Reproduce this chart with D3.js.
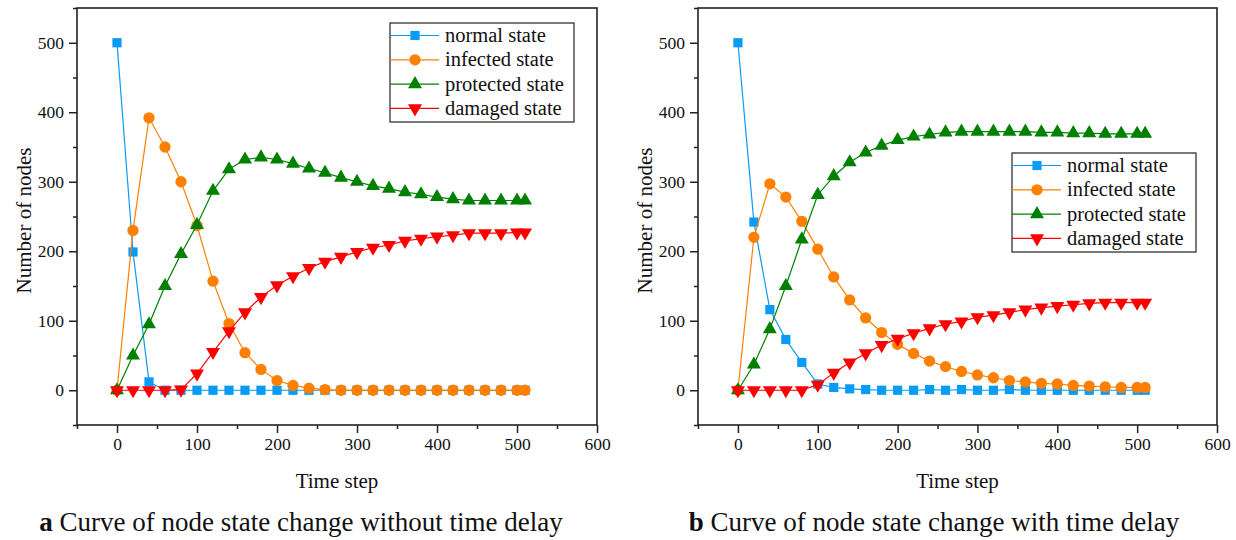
<!DOCTYPE html>
<html>
<head>
<meta charset="utf-8">
<script src="https://cdn.jsdelivr.net/npm/d3@7"></script>
<style>
  body { margin: 0; background: #fff; }
  svg { display: block; font-family: "Liberation Serif", "Times New Roman", serif; }
</style>
</head>
<body>
<div id="chart"></div>
<script>
// time steps shared by both panels
const timeSteps = [0, 20, 40, 60, 80, 100, 120, 140, 160, 180, 200, 220, 240, 260,
  280, 300, 320, 340, 360, 380, 400, 420, 440, 460, 480, 500, 510];

// panel a: without time delay
const normalA = [500, 199, 12, 0, 0, 0, 0, 0, 0, 0, 0, 0, 0, 0,
  0, 0, 0, 0, 0, 0, 0, 0, 0, 0, 0, 0, 0];
const infectedA = [0, 230, 392, 350, 300, 237, 157, 96, 54, 30, 14, 7, 3, 1,
  0, 0, 0, 0, 0, 0, 0, 0, 0, 0, 0, 0, 0];
const protectedA = [0, 50, 95, 150, 196, 238, 287, 318, 332, 335, 332, 326, 319, 313,
  306, 300, 294, 290, 285, 282, 278, 275, 273, 273, 273, 273, 273];
const damagedA = [0, 0, 0, 0, 1, 24, 55, 85, 112, 134, 151, 164, 176, 185,
  192, 199, 205, 209, 215, 218, 221, 223, 226, 226, 226, 227, 227];

// panel b: with time delay
const normalB = [500, 242, 116, 73, 40, 9, 4, 2, 1, 0, 0, 0, 1, 0,
  1, 0, 0, 1, 0, 0, 0, 0, 0, 0, 0, 0, 0];
const infectedB = [0, 220, 297, 278, 243, 203, 163, 130, 104, 83, 66, 53, 42, 34,
  27, 22, 18, 14, 12, 10, 9, 7, 6, 5, 4, 4, 4];
const protectedB = [0, 37, 88, 150, 217, 281, 308, 328, 342, 352, 360, 365, 368, 371,
  372, 372, 372, 372, 372, 371, 371, 370, 370, 369, 369, 369, 369];
const damagedB = [0, 0, 0, 0, 0, 8, 25, 40, 53, 65, 74, 82, 89, 95,
  99, 105, 108, 112, 116, 119, 121, 123, 125, 126, 126, 126, 126];

const seriesNames = ["normal state", "infected state", "protected state", "damaged state"];
const seriesColors = ["#0a9bf5", "#ff8000", "#008000", "#ff0000"];
const seriesSymbols = [d3.symbolSquare, d3.symbolCircle, d3.symbolTriangle, d3.symbolTriangle];
const symbolSizes = [85, 100, 85, 85];

const xMajor = [0, 100, 200, 300, 400, 500, 600];
const xMinor = [-50, 50, 150, 250, 350, 450, 550];
const yMajor = [0, 100, 200, 300, 400, 500];
const yMinor = [-50, 50, 150, 250, 350, 450, 550];

const width = 1236, height = 540;
const serif = "'Liberation Serif', 'Times New Roman', serif";

const svg = d3.select("#chart").append("svg")
  .attr("width", width)
  .attr("height", height)
  .attr("font-family", serif);

function drawPanel(cfg) {
  const x = d3.scaleLinear().domain([-50, 600]).range([cfg.left, cfg.right]);
  const y = d3.scaleLinear().domain([-50, 550]).range([cfg.bottom, cfg.top]);
  const g = svg.append("g");

  // minor ticks
  g.append("g")
    .attr("transform", `translate(0,${cfg.bottom})`)
    .call(d3.axisBottom(x).tickValues(xMinor).tickSize(4).tickFormat(""))
    .call(a => a.select(".domain").remove());
  g.append("g")
    .attr("transform", `translate(${cfg.left},0)`)
    .call(d3.axisLeft(y).tickValues(yMinor).tickSize(4).tickFormat(""))
    .call(a => a.select(".domain").remove());

  // major ticks with labels
  const xa = g.append("g")
    .attr("transform", `translate(0,${cfg.bottom})`)
    .call(d3.axisBottom(x).tickValues(xMajor).tickSize(8).tickPadding(5));
  xa.select(".domain").remove();
  const ya = g.append("g")
    .attr("transform", `translate(${cfg.left},0)`)
    .call(d3.axisLeft(y).tickValues(yMajor).tickSize(8).tickPadding(5));
  ya.select(".domain").remove();

  g.selectAll("g").attr("font-family", serif);
  g.selectAll(".tick line").attr("stroke", "#222").attr("stroke-width", 1.5);
  g.selectAll(".tick text")
    .attr("font-size", 17.5)
    .attr("fill", "#111");

  // box
  g.append("rect")
    .attr("x", cfg.left).attr("y", cfg.top)
    .attr("width", cfg.right - cfg.left)
    .attr("height", cfg.bottom - cfg.top)
    .attr("fill", "none")
    .attr("stroke", "#222")
    .attr("stroke-width", 1.6);

  const line = d3.line()
    .x((d, i) => x(timeSteps[i]))
    .y(d => y(d));

  cfg.series.forEach((vals, s) => {
    g.append("path")
      .datum(vals)
      .attr("d", line)
      .attr("fill", "none")
      .attr("stroke", seriesColors[s])
      .attr("stroke-width", 1.2);
    const sym = d3.symbol().type(seriesSymbols[s]).size(symbolSizes[s]);
    g.selectAll(null)
      .data(vals)
      .enter()
      .append("path")
      .attr("d", sym)
      .attr("transform", (d, i) => `translate(${x(timeSteps[i])},${y(d)})` + (s === 3 ? " rotate(180)" : ""))
      .attr("fill", seriesColors[s]);
  });

  // legend
  const lg = g.append("g").attr("transform", `translate(${cfg.legX},${cfg.legY})`);
  lg.append("rect")
    .attr("width", 184).attr("height", 99)
    .attr("fill", "#fff")
    .attr("stroke", "#222")
    .attr("stroke-width", 1.2);
  seriesNames.forEach((name, s) => {
    const ry = 12.5 + s * 24.3;
    lg.append("line")
      .attr("x1", 0).attr("x2", 49)
      .attr("y1", ry).attr("y2", ry)
      .attr("stroke", seriesColors[s])
      .attr("stroke-width", 1.2);
    lg.append("path")
      .attr("d", d3.symbol().type(seriesSymbols[s]).size(symbolSizes[s])())
      .attr("transform", `translate(25,${ry})` + (s === 3 ? " rotate(180)" : ""))
      .attr("fill", seriesColors[s]);
    lg.append("text")
      .attr("x", 55).attr("y", ry + 6.5)
      .attr("font-size", 20.5)
      .attr("fill", "#111")
      .text(name);
  });

  // axis titles
  const cx = (cfg.left + cfg.right) / 2;
  g.append("text")
    .attr("x", cx).attr("y", 488)
    .attr("text-anchor", "middle")
    .attr("font-size", 21)
    .attr("fill", "#111")
    .text("Time step");
  g.append("text")
    .attr("transform", `translate(${cfg.left - 46},${(cfg.top + cfg.bottom) / 2 + 4}) rotate(-90)`)
    .attr("text-anchor", "middle")
    .attr("font-size", 21)
    .attr("fill", "#111")
    .text("Number of nodes");

  // caption
  const cap = g.append("text")
    .attr("x", cfg.capX).attr("y", 531)
    .attr("text-anchor", "middle")
    .attr("font-size", 27)
    .attr("fill", "#111");
  cap.append("tspan").attr("font-weight", "bold").text(cfg.capLetter);
  cap.append("tspan").text(" " + cfg.capText);
}

drawPanel({
  left: 77, right: 597, top: 8, bottom: 425,
  series: [normalA, infectedA, protectedA, damagedA],
  legX: 390, legY: 23,
  capX: 301, capLetter: "a", capText: "Curve of node state change without time delay"
});

drawPanel({
  left: 698, right: 1217, top: 8, bottom: 425,
  series: [normalB, infectedB, protectedB, damagedB],
  legX: 1012, legY: 153,
  capX: 934, capLetter: "b", capText: "Curve of node state change with time delay"
});
</script>
</body>
</html>
